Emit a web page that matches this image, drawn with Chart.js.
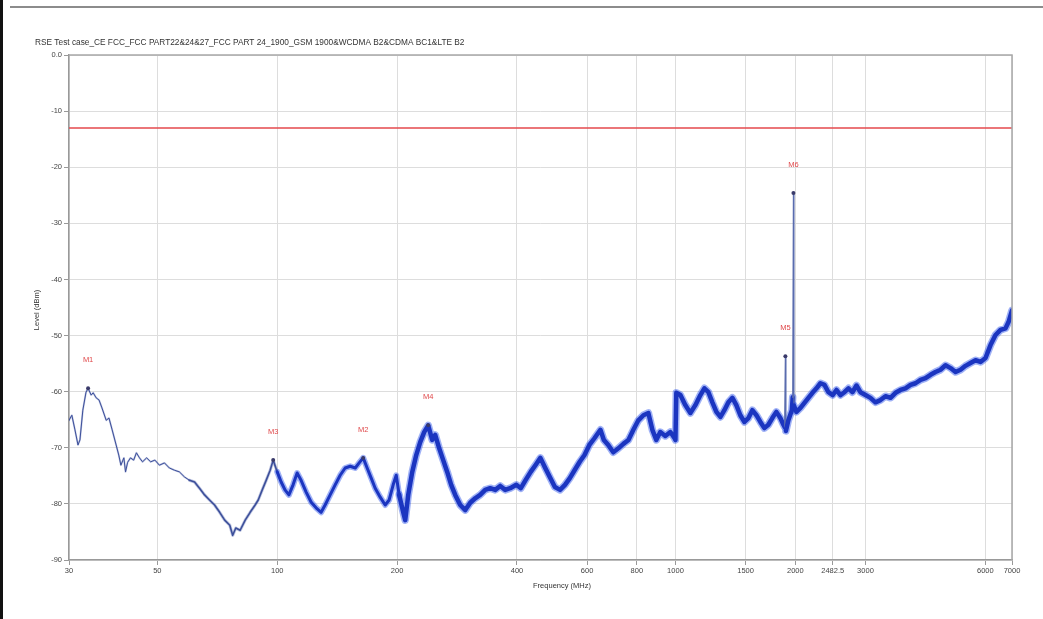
<!DOCTYPE html>
<html>
<head>
<meta charset="utf-8">
<script src="https://cdn.jsdelivr.net/npm/chart.js@4.4.1/dist/chart.umd.min.js"></script>
<style>
  html, body { margin: 0; padding: 0; background: #fff; }
  canvas { display: block; }
</style>
</head>
<body>
<canvas id="rseChart" width="1043" height="619"></canvas>
<script>
// spectrum trace (MHz / dBm)
const traceFreq = [
  30, 30.5, 31.05, 31.6, 31.96, 32.5, 33.1, 33.5, 34.1, 34.5, 35.1, 35.7, 36.3, 37.2, 37.8, 38.5, 39.4,
  40, 40.5, 41.2, 41.6, 42.1, 42.8, 43.6, 44.3, 45.1, 45.9, 47, 48.1, 49.3, 50.6, 52.1, 53.6, 55.2,
  56.8, 58.5, 60.2, 62, 63.8, 65.7, 67.6, 69.6, 71.7, 73.8, 76, 77.3, 78.7, 80.7, 83.1, 85.5, 88,
  89.6, 91.7, 93.8, 96, 97.7, 100, 102.3, 104.6, 107, 109.6, 112.2, 114.8, 118.2, 121.7, 125.2,
  128.9, 131.9, 135.8, 139.8, 143.9, 148.1, 152.5, 157, 160.6, 164.4, 168.2, 172.2, 176.2, 181.4,
  186.7, 191, 195.5, 199, 202.4, 207.2, 209.6, 213.3, 218.3, 223.4, 228.6, 233.9, 239.4, 245, 249.3,
  255.1, 261.1, 267.2, 273.4, 279.9, 288.1, 296.6, 305.2, 314.1, 323.3, 332.9, 342.6, 352.7, 363,
  373.7, 384.7, 398.5, 409, 420, 433, 445, 458, 471, 485, 498, 513, 528, 543, 558, 575, 591, 608,
  626, 648, 661, 678, 698, 719, 740, 762, 784, 807, 831, 855, 875, 895, 916, 943, 971, 995, 1000,
  1005, 1029, 1059, 1090, 1122, 1155, 1182, 1210, 1238, 1267, 1297, 1327, 1358, 1390, 1422, 1455,
  1490, 1525, 1560, 1597, 1634, 1672, 1711, 1751, 1792, 1834, 1867, 1880, 1888, 1894, 1921, 1960,
  1970, 1978, 1984, 2013, 2060, 2108, 2157, 2208, 2260, 2312, 2367, 2422, 2482, 2537, 2596, 2657,
  2719, 2782, 2848, 2914, 3000, 3088, 3178, 3272, 3368, 3467, 3570, 3673, 3781, 3893, 4007, 4125,
  4246, 4370, 4498, 4630, 4766, 4906, 5050, 5198, 5350, 5507, 5669, 5835, 6006, 6182, 6363, 6551,
  6743, 6861, 7000
];
const traceLevel = [
  -65.1, -64.2, -66.8, -69.5, -68.6, -63.3, -60.1, -59.4, -60.6, -60.2, -61.1, -61.5, -62.9, -65.1, -64.7, -66.8, -69.5,
  -71.3, -73.1, -71.8, -74.3, -72.6, -71.8, -72.2, -70.9, -71.8, -72.5, -71.8, -72.5, -72.2, -73.1, -72.7, -73.6, -74.0,
  -74.3, -75.2, -75.8, -76.1, -77.2, -78.4, -79.3, -80.2, -81.5, -82.9, -83.8, -85.6, -84.3, -84.7, -82.9, -81.5, -80.2,
  -79.3, -77.5, -75.8, -74.0, -72.2, -74.3, -76.1, -77.5, -78.4, -76.6, -74.5, -75.8, -77.9, -79.7, -80.7,
  -81.5, -80.2, -78.4, -76.6, -74.9, -73.6, -73.3, -73.6, -72.7, -71.8, -73.6, -75.4, -77.2, -78.8,
  -80.2, -79.3, -76.6, -74.9, -78.4, -81.5, -82.9, -78.4, -74.3, -71.3, -69.0, -67.2, -66.0, -68.6, -67.7,
  -70.1, -72.2, -74.3, -76.6, -78.4, -80.2, -81.1, -79.8, -79.0, -78.4, -77.5, -77.2, -77.5, -76.8,
  -77.5, -77.2, -76.6, -77.2, -75.8, -74.3, -73.1, -71.8, -73.6, -75.4, -77.0, -77.5, -76.6, -75.4, -74.0, -72.5, -71.3, -69.5,
  -68.3, -66.8, -68.6, -69.5, -70.8, -70.1, -69.3, -68.6, -66.8, -65.1, -64.2, -63.8, -66.8, -68.6, -67.2, -67.9, -67.2, -68.3, -68.6,
  -60.2, -60.6, -62.4, -63.8, -62.4, -60.6, -59.4, -60.1, -61.9, -63.6, -64.5, -63.3, -61.9, -61.1, -62.4, -64.2,
  -65.4, -64.7, -63.3, -64.2, -65.4, -66.5, -65.9, -64.7, -63.6, -64.7, -65.9, -66.3, -53.7, -67.0, -65.1, -63.3,
  -61.0, -24.6, -62.5, -63.6, -62.9, -62.0, -61.1, -60.2, -59.4, -58.5, -58.8, -60.1, -60.6, -59.7, -60.6, -60.1,
  -59.4, -60.1, -58.9, -60.1, -60.6, -61.1, -61.9, -61.5, -60.8, -61.1, -60.2, -59.7, -59.4, -58.8, -58.5, -57.9,
  -57.6, -57.0, -56.5, -56.1, -55.3, -55.8, -56.5, -56.1, -55.4, -54.9, -54.4, -54.7, -54.0, -51.7, -49.9, -49.0,
  -48.7, -47.6, -45.5
];

// marker table
const markerNames = ['M1', 'M2', 'M3', 'M4', 'M5', 'M6'];
const markerFreq = [33.5, 164.4, 97.7, 239.4, 1888, 1978];
const markerLevel = [-59.4, -71.8, -72.2, -66.0, -53.7, -24.6];

// limit line
const limitFreq = [30, 7000];
const limitLevel = [-13, -13];

// axis ticks
const xTicks = [30, 50, 100, 200, 400, 600, 800, 1000, 1500, 2000, 2482.5, 3000, 6000, 7000];
const yTicks = [0, -10, -20, -30, -40, -50, -60, -70, -80, -90];

const titleText = 'RSE Test case_CE FCC_FCC PART22&24&27_FCC PART 24_1900_GSM 1900&WCDMA B2&CDMA BC1&LTE B2';
const FONT = '"Liberation Sans", Arial, sans-serif';

const pairs = (xs, ys) => xs.map((x, i) => ({ x: x, y: ys[i] }));

// width of the noise band along the trace
function bandWidth(s, extra) {
  const f = s.p0.parsed.x;
  if (Math.abs(s.p1.parsed.y - s.p0.parsed.y) > 10) return 1.2;
  if (f < 60) return 1 + extra * 0.3;
  if (f < 100) return 1.6 + extra * 0.5;
  if (f < 200) return 3 + extra;
  return 4.5 + extra;
}

const decor = {
  id: 'decor',
  beforeDraw(chart) {
    const c = chart.ctx;
    c.save();
    c.fillStyle = '#fff';
    c.fillRect(0, 0, chart.width, chart.height);
    c.fillStyle = '#111';
    c.fillRect(0, 0, 3, chart.height);
    c.fillStyle = '#8c8c8c';
    c.fillRect(10, 6, chart.width - 10, 2);
    c.restore();
  },
  afterDraw(chart) {
    const c = chart.ctx;
    const a = chart.chartArea;
    c.save();
    c.strokeStyle = '#a8a8a8';
    c.lineWidth = 1.5;
    c.beginPath();
    c.moveTo(a.left, a.top);
    c.lineTo(a.right, a.top);
    c.lineTo(a.right, a.bottom);
    c.stroke();

    c.fillStyle = '#333';
    c.font = '8.3px ' + FONT;
    c.textBaseline = 'middle';
    c.textAlign = 'left';
    c.fillText(titleText, 35, 43);

    c.font = '7.5px ' + FONT;
    c.textAlign = 'center';
    c.fillText('Frequency (MHz)', 562, 586);
    c.translate(37, 310);
    c.rotate(-Math.PI / 2);
    c.fillText('Level (dBm)', 0, 0);
    c.restore();

    // marker labels
    const xs = chart.scales.x, ys = chart.scales.y;
    c.save();
    c.fillStyle = '#e0484a';
    c.font = '7.5px ' + FONT;
    c.textAlign = 'center';
    c.textBaseline = 'middle';
    markerNames.forEach((n, i) => {
      c.fillText(n, xs.getPixelForValue(markerFreq[i]), ys.getPixelForValue(markerLevel[i]) - 28);
    });
    c.restore();
  }
};

new Chart(document.getElementById('rseChart'), {
  type: 'line',
  data: {
    datasets: [
      {
        label: 'Markers',
        type: 'scatter',
        data: pairs(markerFreq, markerLevel),
        pointRadius: 2,
        pointBackgroundColor: '#3a3a6a',
        pointBorderWidth: 0
      },
      {
        label: 'Limit',
        data: pairs(limitFreq, limitLevel),
        borderColor: '#e5484d',
        borderWidth: 1.5,
        pointRadius: 0
      },
      {
        label: 'Trace',
        data: pairs(traceFreq, traceLevel),
        borderColor: '#1d3fd0',
        borderJoinStyle: 'round',
        borderCapStyle: 'round',
        pointRadius: 0,
        tension: 0,
        segment: {
          borderWidth: s => bandWidth(s, 0),
          borderColor: s => {
            if (Math.abs(s.p1.parsed.y - s.p0.parsed.y) > 10) return '#5a6cae';
            return s.p0.parsed.x < 100 ? '#3c4f9a' : '#1b35c0';
          }
        }
      },
      {
        label: 'Trace band',
        data: pairs(traceFreq, traceLevel),
        borderColor: 'rgba(45, 85, 235, 0.45)',
        borderJoinStyle: 'round',
        borderCapStyle: 'round',
        pointRadius: 0,
        tension: 0,
        segment: {
          borderWidth: s => bandWidth(s, 3),
          borderColor: s => (Math.abs(s.p1.parsed.y - s.p0.parsed.y) > 10
            ? 'rgba(0,0,0,0)'
            : (s.p0.parsed.x < 100 ? 'rgba(70, 90, 170, 0.35)' : 'rgba(45, 85, 235, 0.45)'))
        }
      }
    ]
  },
  options: {
    responsive: false,
    devicePixelRatio: 1,
    animation: false,
    layout: { padding: { top: 55, right: 31, bottom: 0, left: 0 } },
    plugins: {
      legend: { display: false },
      tooltip: { enabled: false }
    },
    scales: {
      x: {
        type: 'logarithmic',
        min: 30,
        max: 7000,
        afterFit: s => { s.height = 59; },
        afterBuildTicks: s => { s.ticks = xTicks.map(v => ({ value: v })); },
        grid: { color: '#dddddd', tickColor: '#999', tickLength: 5 },
        border: { color: '#999', width: 1.5 },
        ticks: {
          autoSkip: false,
          maxRotation: 0,
          padding: 1,
          color: '#444',
          font: { family: FONT, size: 7.5 },
          callback: v => String(v)
        }
      },
      y: {
        min: -90,
        max: 0,
        afterFit: s => { s.width = 69; },
        afterBuildTicks: s => { s.ticks = yTicks.map(v => ({ value: v })); },
        grid: { color: '#dddddd', tickColor: '#999', tickLength: 5 },
        border: { color: '#999', width: 1.5 },
        ticks: {
          padding: 2,
          color: '#444',
          font: { family: FONT, size: 7.5 },
          callback: v => (v === 0 ? '0.0' : String(v))
        }
      }
    }
  },
  plugins: [decor]
});
</script>
</body>
</html>
